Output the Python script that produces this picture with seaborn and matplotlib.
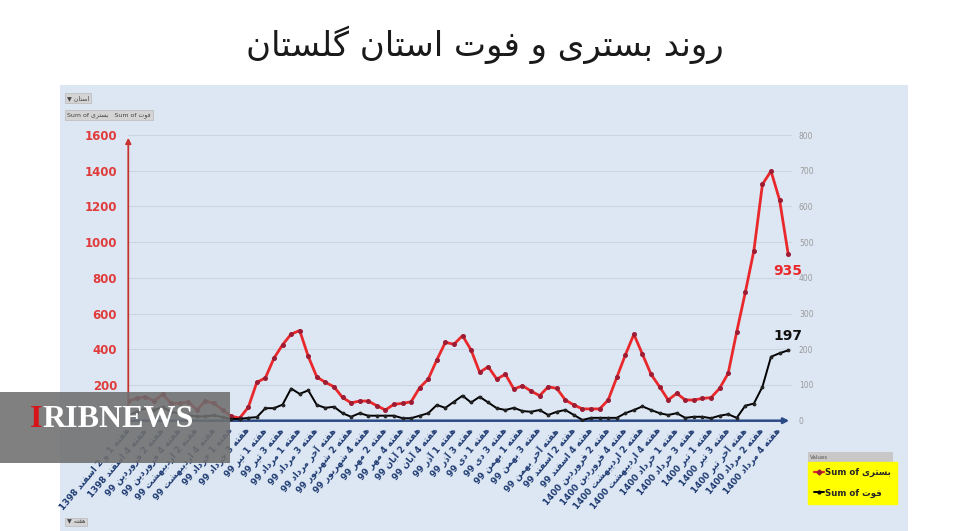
import numpy as np
import pandas as pd
import seaborn as sns
import matplotlib.pyplot as plt
from matplotlib.patches import Rectangle
from matplotlib.lines import Line2D
from matplotlib.text import Annotation

# weekly hospitalised (left axis) and deaths (right axis), Golestan province
hospital = [110, 125, 134, 110, 148, 97, 97, 106, 60, 110,
            97, 60, 25, 15, 75, 215, 240, 350, 425, 485,
            505, 360, 245, 215, 190, 130, 100, 110, 110, 84,
            60, 92, 97, 106, 185, 233, 340, 439, 428, 476,
            396, 271, 302, 233, 260, 177, 196, 166, 140, 190,
            181, 116, 88, 66, 66, 66, 116, 242, 368, 484,
            372, 260, 190, 116, 153, 116, 116, 125, 129, 181,
            265, 498, 719, 952, 1324, 1398, 1236, 935]
deaths = [15, 25, 35, 30, 38, 25, 20, 15, 12, 12,
          15, 10, 5, 5, 8, 10, 35, 35, 45, 90,
          75, 85, 44, 36, 39, 21, 11, 21, 14, 14,
          14, 14, 7, 7, 14, 21, 44, 36, 53, 70,
          51, 67, 51, 35, 30, 36, 27, 25, 30, 16,
          25, 30, 16, 2, 8, 8, 8, 8, 21, 30,
          40, 30, 21, 16, 21, 8, 11, 11, 7, 14,
          18, 8, 42, 48, 95, 179, 189, 197]

week_labels = ['هفته 1 و 2 اسفند 1398', 'هفته 4 اسفند 1398',
               'هفته 2 فروردین 99', 'هفته 4 فروردین 99',
               'هفته 2 اردیبهشت 99', 'هفته 4 اردیبهشت 99',
               'هفته 1 خرداد 99', 'هفته 3 خرداد 99',
               'هفته 1 تیر 99', 'هفته 3 تیر 99',
               'هفته 1 مرداد 99', 'هفته 3 مرداد 99', 'هفته آخر مرداد 99',
               'هفته 2 شهریور 99', 'هفته 4 شهریور 99',
               'هفته 2 مهر 99', 'هفته 4 مهر 99',
               'هفته 2 آبان 99', 'هفته 4 آبان 99',
               'هفته 1 آذر 99', 'هفته 3 آذر 99',
               'هفته 1 دی 99', 'هفته 3 دی 99',
               'هفته 1 بهمن 99', 'هفته 3 بهمن 99', 'هفته آخر بهمن 99',
               'هفته 2 اسفند 99', 'هفته 4 اسفند 99',
               'هفته 2 فروردین 1400', 'هفته 4 فروردین 1400',
               'هفته 2 اردیبهشت 1400', 'هفته 4 اردیبهشت 1400',
               'هفته 1 خرداد 1400', 'هفته 3 خرداد 1400',
               'هفته 1 تیر 1400', 'هفته 3 تیر 1400', 'هفته آخر تیر 1400',
               'هفته 2 مرداد 1400', 'هفته 4 مرداد 1400']

title = 'روند بستری و فوت استان گلستان'
name_hosp = 'بستری'
name_death = 'فوت'

# --- tiny persian shaper (matplotlib has no arabic shaping / bidi) ---
FORMS = {
    'ا': (0xFE8D, 0xFE8E), 'آ': (0xFE81, 0xFE82),
    'ب': (0xFE8F, 0xFE90, 0xFE91, 0xFE92), 'پ': (0xFB56, 0xFB57, 0xFB58, 0xFB59),
    'ت': (0xFE95, 0xFE96, 0xFE97, 0xFE98), 'ث': (0xFE99, 0xFE9A, 0xFE9B, 0xFE9C),
    'ج': (0xFE9D, 0xFE9E, 0xFE9F, 0xFEA0), 'چ': (0xFB7A, 0xFB7B, 0xFB7C, 0xFB7D),
    'ح': (0xFEA1, 0xFEA2, 0xFEA3, 0xFEA4), 'خ': (0xFEA5, 0xFEA6, 0xFEA7, 0xFEA8),
    'د': (0xFEA9, 0xFEAA), 'ذ': (0xFEAB, 0xFEAC), 'ر': (0xFEAD, 0xFEAE),
    'ز': (0xFEAF, 0xFEB0), 'ژ': (0xFB8A, 0xFB8B),
    'س': (0xFEB1, 0xFEB2, 0xFEB3, 0xFEB4), 'ش': (0xFEB5, 0xFEB6, 0xFEB7, 0xFEB8),
    'ع': (0xFEC9, 0xFECA, 0xFECB, 0xFECC), 'ف': (0xFED1, 0xFED2, 0xFED3, 0xFED4),
    'ق': (0xFED5, 0xFED6, 0xFED7, 0xFED8), 'ک': (0xFB8E, 0xFB8F, 0xFB90, 0xFB91),
    'گ': (0xFB92, 0xFB93, 0xFB94, 0xFB95), 'ل': (0xFEDD, 0xFEDE, 0xFEDF, 0xFEE0),
    'م': (0xFEE1, 0xFEE2, 0xFEE3, 0xFEE4), 'ن': (0xFEE5, 0xFEE6, 0xFEE7, 0xFEE8),
    'و': (0xFEED, 0xFEEE), 'ه': (0xFEE9, 0xFEEA, 0xFEEB, 0xFEEC),
    'ی': (0xFBFC, 0xFBFD, 0xFBFE, 0xFBFF),
}


def shape_word(w):
    out = []
    for i, c in enumerate(w):
        if c not in FORMS:
            out.append(c)
            continue
        f = FORMS[c]
        prev = w[i - 1] if i > 0 else ''
        nxt = w[i + 1] if i + 1 < len(w) else ''
        jp = prev in FORMS and len(FORMS[prev]) == 4
        jn = len(f) == 4 and nxt in FORMS
        if jp and jn:
            out.append(chr(f[3]))
        elif jp:
            out.append(chr(f[1]))
        elif jn:
            out.append(chr(f[2]))
        else:
            out.append(chr(f[0]))
    return ''.join(out)


def rtl(s):
    words = []
    for t in reversed(s.split(' ')):
        if any(ch in FORMS for ch in t):
            words.append(shape_word(t)[::-1])
        else:
            words.append(t)
    return ' '.join(words)


sns.set_style('white')
plt.rcParams['font.family'] = ['DejaVu Sans']

W, H = 956, 531
fig = plt.figure(figsize=(W / 100, H / 100), dpi=100)
fig.patch.set_facecolor('white')

# light blue chart panel
fig.patches.append(Rectangle((60 / W, 0), 848 / W, 446 / H, transform=fig.transFigure,
                             facecolor='#dde7f3', edgecolor='none', zorder=-5))

fig.text(485 / W, 1 - 45 / H, rtl(title), ha='center', va='center',
         fontsize=24.5, color='#1a1a1a')

ax = fig.add_axes([128.3 / W, 1 - 420.7 / H, (792 - 128.3) / W, 285.7 / H])
ax.set_facecolor('none')

df = pd.DataFrame({'week': np.arange(len(hospital)), 'hosp': hospital, 'death': deaths})

sns.lineplot(data=df, x='week', y='hosp', ax=ax, color='#e8282b', linewidth=2,
             marker='o', markersize=2.8, markerfacecolor='#9c1c34',
             markeredgecolor='#9c1c34', zorder=5)

ax2 = ax.twinx()
sns.lineplot(data=df, x='week', y='death', ax=ax2, color='black', linewidth=1.4,
             marker='o', markersize=2.0, markerfacecolor='#222', markeredgecolor='#222',
             zorder=5)

ax.set_xlim(0, 77.45)
ax.set_ylim(0, 1600)
ax2.set_ylim(0, 800)

ax.set_yticks(range(0, 1601, 200))
ax.set_yticklabels([''] + [str(v) for v in range(200, 1601, 200)])
ax.tick_params(axis='y', length=0, pad=8, labelsize=8.5, labelcolor='#e03c3c')
for t in ax.get_yticklabels():
    t.set_fontweight('bold')
ax.grid(axis='y', color='#cbd5e2', linewidth=0.8)
ax.grid(axis='x', visible=False)

ax2.set_yticks(range(0, 801, 100))
ax2.tick_params(axis='y', length=0, pad=5, labelsize=5.5, labelcolor='#9a9a9a')

ax.set_xticks(range(0, len(hospital), 2))
ax.set_xticklabels([rtl(s) for s in week_labels], rotation=50, ha='right', va='center',
                   rotation_mode='anchor', fontsize=6.3, color='#1f3b73', fontweight='bold')
ax.tick_params(axis='x', length=0, pad=6)

ax.set_xlabel('')
ax.set_ylabel('')
ax2.set_ylabel('')
for a in (ax, ax2):
    for s in a.spines.values():
        s.set_visible(False)

# axis arrows
ax.annotate('', xy=(0, 1), xytext=(0, 0), xycoords='axes fraction',
            arrowprops=dict(arrowstyle='-|>', color='#c8322f', lw=1.3, mutation_scale=8))
ax.annotate('', xy=(1, 0), xytext=(0, 0), xycoords='axes fraction',
            arrowprops=dict(arrowstyle='-|>', color='#2b4a86', lw=1.8, mutation_scale=8))

# last value labels
ax.annotate(str(hospital[-1]), xy=(len(hospital) - 1, hospital[-1]), xytext=(0, -17),
            textcoords='offset pixels', ha='center', va='center', color='#e8282b',
            fontsize=10, fontweight='bold')
ax2.annotate(str(deaths[-1]), xy=(len(deaths) - 1, deaths[-1]), xytext=(0, 14),
             textcoords='offset pixels', ha='center', va='center', color='#111',
             fontsize=10, fontweight='bold')

# legend in a yellow box with a grey "Values" header
handles = [Line2D([], [], color='#e8282b', lw=1.6, marker='D', markersize=2.6,
                  markerfacecolor='#9c1c34', markeredgecolor='#9c1c34'),
           Line2D([], [], color='black', lw=1.4, marker='o', markersize=2)]
labels = ['Sum of ' + rtl(name_hosp), 'Sum of ' + rtl(name_death)]
leg = fig.legend(handles, labels, loc='upper left', bbox_to_anchor=(808 / W, 1 - 462 / H),
                 frameon=True, facecolor='#ffff00', edgecolor='#ffff00', fancybox=False,
                 prop={'size': 6.2, 'weight': 'bold'}, handlelength=1.2, handletextpad=0.1,
                 borderpad=0.7, labelspacing=1.3, borderaxespad=0)
leg.get_frame().set_alpha(1)
fig.patches.append(Rectangle((808 / W, 1 - 463 / H), 85 / W, 11 / H, transform=fig.transFigure,
                             facecolor='#c8c8c8', edgecolor='none', zorder=4))
fig.text(810 / W, 1 - 457.5 / H, 'Values', fontsize=4, color='#555', va='center', zorder=5)

# pivot field buttons
btn = dict(boxstyle='square,pad=0.3', facecolor='#d4d4d4', edgecolor='#b0b0b0', lw=0.4)
fig.text(67 / W, 1 - 98 / H, '▼ ' + rtl('استان'), fontsize=4.5, color='#444',
         va='center', bbox=btn)
fig.text(67 / W, 1 - 115 / H, 'Sum of ' + rtl(name_hosp) + '   Sum of ' + rtl(name_death),
         fontsize=4.5, color='#444', va='center', bbox=btn)
fig.text(67 / W, 1 - 522 / H, '▼ ' + rtl('هفته'), fontsize=4.5, color='#444',
         va='center', bbox=btn)

# IRIBNEWS watermark
fig.patches.append(Rectangle((0, 1 - 463 / H), 230 / W, 71 / H, transform=fig.transFigure,
                             facecolor='#6f6f6f', edgecolor='none', alpha=0.88, zorder=10))
t1 = fig.text(30 / W, 1 - 427 / H, 'I', color='#d8141b', fontsize=23, fontweight='bold',
              family='Liberation Serif', va='baseline', zorder=11)
fig.add_artist(Annotation('RIBNEWS', xy=(1, 0), xycoords=t1, va='bottom', ha='left',
                          color='white', fontsize=23, fontweight='bold',
                          family='Liberation Serif', zorder=11))

fig.savefig('out.png', dpi=100)
